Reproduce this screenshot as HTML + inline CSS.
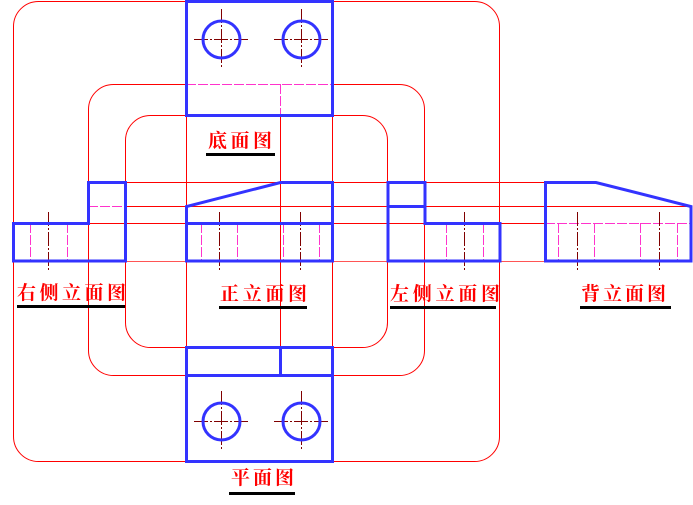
<!DOCTYPE html>
<html><head><meta charset="utf-8"><style>
html,body{margin:0;padding:0;background:#fff}
svg{display:block}
text{font-family:"Liberation Serif","Noto Serif CJK SC",serif;font-size:19px;font-weight:700;fill:#f00}
</style></head><body>
<svg width="693" height="505" viewBox="0 0 693 505" xmlns="http://www.w3.org/2000/svg">
<g fill="none" stroke="#f00" stroke-width="1">
<rect x="13.5" y="1.5" width="486" height="460" rx="25"/>
<rect x="88.5" y="84.5" width="336" height="291" rx="25"/>
<rect x="125.5" y="115.5" width="262" height="232" rx="25"/>
<path d="M125 182.5H545M125 206.5H692M13 223.5H545"/>
<path d="M186.5 1V461M332.5 1V461M280.5 115V347"/>
</g>
<path d="M13 261.5H545" fill="none" stroke="#f55" stroke-width="1"/>
<path d="M187 84.5H332" fill="none" stroke="#fff" stroke-width="1.5"/>
<g fill="none" stroke="#f3c" stroke-width="1" stroke-dasharray="10 2">
<path d="M186 84.5H332M280.5 84V115M88 206.5H125M545 223.5H691"/>
<path d="M30.5 223V261M67.5 223V261M201.5 223V261M237.5 223V261M283.5 223V261M319.5 223V261M446.5 223V261M483.5 223V261M558.5 223V261M594.5 223V261M640.5 223V261M677.5 223V261"/>
</g>
<g fill="none" stroke="#800000" stroke-width="1" stroke-dasharray="14 2 2 2">
<path d="M48.5 212V270M219.5 212V270M300.5 212V270M464.5 212V270M577.5 212V270M659.5 212V270"/>
<path d="M194 39.5H248M221.5 9V67M274 39.5H328M301.5 9V67"/>
<path d="M194 421.5H248M221.5 391V449M274 421.5H328M301.5 391V449"/>
</g>
<g fill="none" stroke="#3333ff" stroke-width="3">
<rect x="186.5" y="1.5" width="146" height="114"/>
<circle cx="221.5" cy="39.5" r="18.5"/>
<circle cx="301.5" cy="39.5" r="18.5"/>
<rect x="186.5" y="347.5" width="146" height="114"/>
<path d="M186 375.5H332M280.5 347V375"/>
<circle cx="221.5" cy="421.5" r="18.5"/>
<circle cx="301.5" cy="421.5" r="18.5"/>
<path d="M13.5 223.5H88.5V182.5H125.5V261H13.5Z"/>
<path d="M186.5 261V206.5L280.5 182.5H332.5V261Z"/>
<path d="M186 223.5H332"/>
<path d="M388 182.5H425V223.5H500V261H388ZM388 206.5H425"/>
<path d="M545.5 182.5H596L691 206.5V261H545.5Z"/>
</g>
<g stroke="#000" stroke-width="3">
<path d="M206 154.5H275M17 306.5H125M219 307.5H307M390 307.5H496M580 307.5H671M229 493.5H295"/>
</g>
<text x="208" y="147" textLength="64" lengthAdjust="spacing">底面图</text>
<text x="17" y="299" textLength="109" lengthAdjust="spacing">右侧立面图</text>
<text x="220" y="300" textLength="87" lengthAdjust="spacing">正立面图</text>
<text x="390" y="300" textLength="110" lengthAdjust="spacing">左侧立面图</text>
<text x="581" y="300" textLength="85" lengthAdjust="spacing">背立面图</text>
<text x="231" y="484" textLength="63" lengthAdjust="spacing">平面图</text>
</svg>
</body></html>
